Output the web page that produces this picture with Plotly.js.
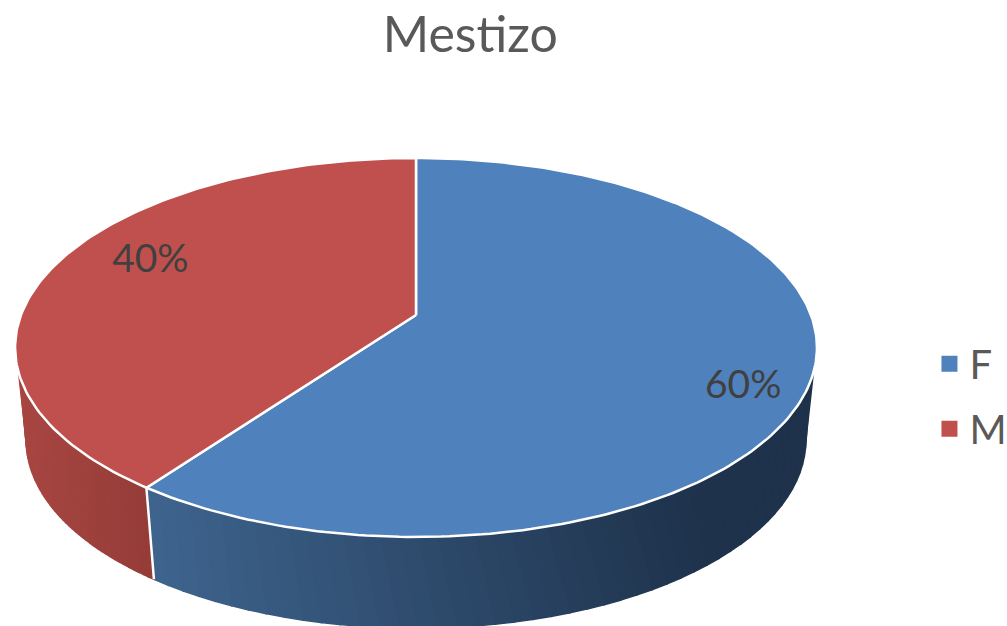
<!DOCTYPE html>
<html>
<head>
<meta charset="utf-8">
<script src="https://cdn.plot.ly/plotly-3.0.1.min.js"></script>
<style>html,body{margin:0;padding:0;background:#fff;overflow:hidden}#chart{width:1007px;height:626px}text{font-variant-ligatures:none}</style>
</head>
<body>
<div id="chart"></div>
<script>
var categories = ['F', 'M'];
var values = [60, 40];
var topColors = ['#4F81BD', '#C0504D'];
var sideColorsFrom = [[62, 100, 142], [168, 70, 66]];
var sideColorsTo = [[30, 50, 75], [148, 60, 55]];
var sideRangeX = [[150, 700], [20, 157]];
var labelRadius = [0.855, 0.78];
var labelAngleShift = 6.5;

var P = 0.1715;
var topFace = {cx: 416, cy: 315, a: 395, b: 183.9};
var labelFace = {cx: 416, cy: 318.5, a: 395, b: 183.9};
var baseFace = {cx: 416, cy: 407.8, a: 384, b: 182.5};
var topLimits = [107.4, 252.6];
var baseLimits = [100, 260];

function proj(face, deg, r) {
  var t = deg * Math.PI / 180, u = r * Math.sin(t), v = r * Math.cos(t), d = 1 + P * v;
  return [face.cx + face.a * u / d, face.cy - face.b * v / d];
}
function lerp(a, b, f) { return a + (b - a) * f; }

var total = values.reduce(function (s, v) { return s + v; }, 0);
var traces = [];
var start = 0;
var bounds = values.map(function (v) { var s = start; start += v / total * 360; return [s, start]; });

var STRIPS = 48;
bounds.forEach(function (b, k) {
  var t0 = Math.max(b[0], topLimits[0]), t1 = Math.min(b[1], topLimits[1]);
  var q0 = Math.max(b[0], baseLimits[0]), q1 = Math.min(b[1], baseLimits[1]);
  for (var i = 0; i < STRIPS; i++) {
    var f0 = i / STRIPS, f1 = (i + 1) / STRIPS;
    var a = proj(topFace, lerp(t0, t1, f0), 1), c = proj(topFace, lerp(t0, t1, f1), 1);
    var e = proj(baseFace, lerp(q0, q1, f0), 1), g = proj(baseFace, lerp(q0, q1, f1), 1);
    var mx = (a[0] + c[0] + e[0] + g[0]) / 4;
    var f = Math.min(1, Math.max(0, (mx - sideRangeX[k][0]) / (sideRangeX[k][1] - sideRangeX[k][0])));
    var col = 'rgb(' + [0, 1, 2].map(function (n) { return Math.round(lerp(sideColorsFrom[k][n], sideColorsTo[k][n], f)); }).join(',') + ')';
    traces.push({
      type: 'scatter', mode: 'lines', x: [a[0], c[0], g[0], e[0], a[0]], y: [a[1], c[1], g[1], e[1], a[1]],
      fill: 'toself', fillcolor: col, line: {color: col, width: 1.6}, showlegend: false, hoverinfo: 'skip'
    });
  }
});

var seamTop = proj(topFace, bounds[0][1], 1), seamBase = proj(baseFace, bounds[0][1], 1);
traces.push({type: 'scatter', mode: 'lines', x: [seamTop[0], seamBase[0]], y: [seamTop[1], seamBase[1]],
  line: {color: '#fff', width: 2.5}, showlegend: false, hoverinfo: 'skip'});

bounds.forEach(function (b, k) {
  var xs = [topFace.cx], ys = [topFace.cy];
  var n = Math.ceil(b[1] - b[0]);
  for (var i = 0; i <= n; i++) {
    var p = proj(topFace, lerp(b[0], b[1], i / n), 1);
    xs.push(p[0]); ys.push(p[1]);
  }
  xs.push(topFace.cx); ys.push(topFace.cy);
  traces.push({type: 'scatter', mode: 'lines', x: xs, y: ys, fill: 'toself', fillcolor: topColors[k],
    line: {color: '#fff', width: 2.5}, showlegend: false, hoverinfo: 'skip'});
});

var lx = [], ly = [], lt = [];
bounds.forEach(function (b, k) {
  var p = proj(labelFace, (b[0] + b[1]) / 2 + labelAngleShift, labelRadius[k]);
  lx.push(p[0]); ly.push(p[1]); lt.push(Math.round(values[k] / total * 100) + '%');
});
traces.push({type: 'scatter', mode: 'text', x: lx, y: ly, text: lt, textposition: 'middle center',
  textfont: {family: 'Lato, sans-serif', size: 39, color: '#404040'}, showlegend: false, hoverinfo: 'skip'});

categories.forEach(function (c, k) {
  traces.push({type: 'scatter', mode: 'markers', x: [null], y: [null], name: c, legendgroup: c,
    marker: {symbol: 'square', size: 16, color: topColors[k]}});
});

Plotly.newPlot('chart', traces, {
  width: 1007, height: 626,
  margin: {l: 0, r: 100, t: 0, b: 0},
  paper_bgcolor: '#fff', plot_bgcolor: '#fff',
  title: {text: 'Mestizo', x: 0.467, xanchor: 'center', y: 0.945, yanchor: 'middle',
    font: {family: 'Lato, sans-serif', size: 50, color: '#595959'}},
  xaxis: {range: [0, 907], visible: false, fixedrange: true},
  yaxis: {range: [626, 0], visible: false, fixedrange: true},
  legend: {xref: 'container', yref: 'container', x: 0.923, xanchor: 'left', y: 0.471, yanchor: 'top', itemwidth: 30, tracegroupgap: 10, traceorder: 'grouped',
    bgcolor: 'rgba(0,0,0,0)', font: {family: 'Lato, sans-serif', size: 40, color: '#595959'}},
  showlegend: true, hovermode: false
}, {displayModeBar: false, staticPlot: true});
</script>
</body>
</html>
